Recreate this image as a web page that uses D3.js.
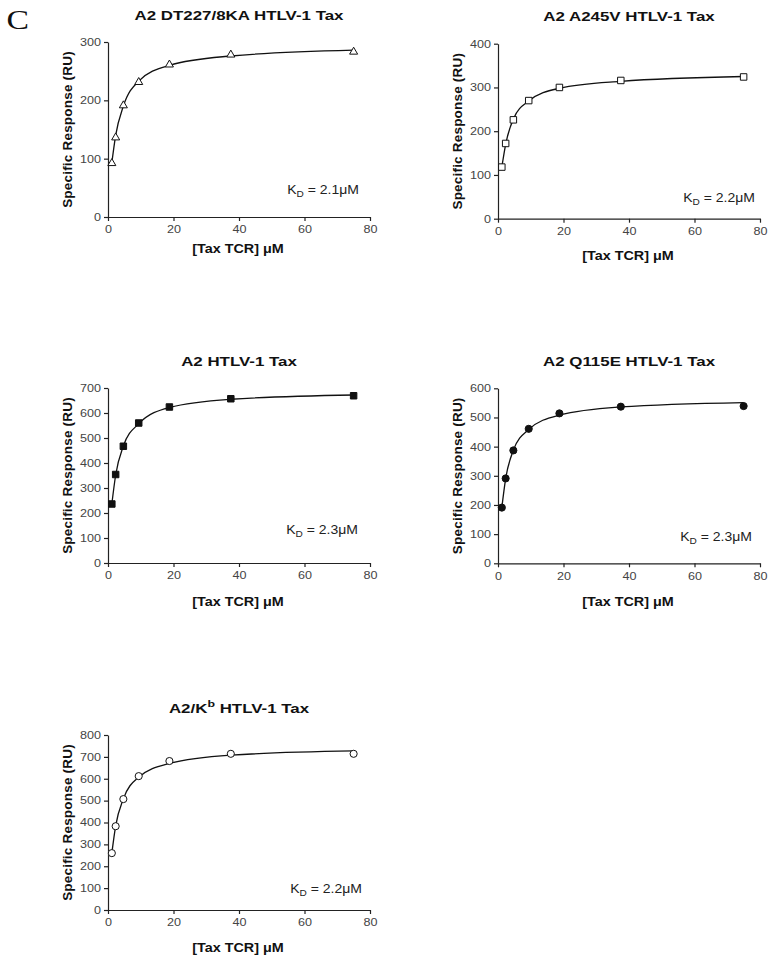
<!DOCTYPE html>
<html>
<head>
<meta charset="utf-8">
<script src="https://cdn.jsdelivr.net/npm/d3@7"></script>
<style>
  html, body { margin: 0; padding: 0; background: #fff; }
  svg { display: block; }
  .tick text { font-family: "Liberation Sans", Arial, sans-serif; font-size: 10.5px; fill: #444; }
  .tick line, .domain { stroke: #222; stroke-width: 1.2px; }
</style>
</head>
<body>
<svg id="chart" width="775" height="963"></svg>
<script>
// ---------- data ----------
const concentrations = [1.17, 2.34, 4.69, 9.38, 18.75, 37.5, 75];   // [Tax TCR] µM
// measured points
const dt227Values = [93, 137, 192, 232, 262, 279, 284];
const a245vValues = [118, 172, 226, 270, 300, 316, 324];
const htlvValues  = [236, 354, 467, 560, 624, 657, 669];
const q115eValues = [191, 291, 387, 461, 514, 537, 539];
const kbValues    = [260, 383, 507, 612, 681, 714, 714];
// fitted curve at the same concentrations
const dt227Fit = [93, 140, 190, 233, 260, 276, 286];
const a245vFit = [118, 170, 228, 269, 298, 314, 325];
const htlvFit  = [236, 352, 468, 557, 622, 655, 672];
const q115eFit = [191, 290, 388, 459, 508, 536, 551];
const kbFit    = [260, 385, 508, 607, 670, 708, 727];
const panelTitles = ["A2 DT227/8KA HTLV-1 Tax", "A2 A245V HTLV-1 Tax", "A2 HTLV-1 Tax", "A2 Q115E HTLV-1 Tax", "A2/K|b| HTLV-1 Tax"];
const kdValues = ["2.1", "2.2", "2.3", "2.3", "2.2"];
const yMaxValues = [300, 400, 700, 600, 800];
const xTickValues = [0, 20, 40, 60, 80];
const markerTypes = ["triangleOpen", "squareOpen", "squareFilled", "circleFilled", "circleOpen"];
const seriesValues = [dt227Values, a245vValues, htlvValues, q115eValues, kbValues];
const fitValues = [dt227Fit, a245vFit, htlvFit, q115eFit, kbFit];

// ---------- layout ----------
const W = 262, H = 175;
const layout = [
  {left: 108, bottom: 217,   xlab: 36, kdX: 251, kdY: 23},
  {left: 498, bottom: 218.7, xlab: 41, kdX: 257, kdY: 16.5},
  {left: 108, bottom: 563,   xlab: 43, kdX: 250, kdY: 29.5},
  {left: 498, bottom: 563.3, xlab: 43, kdX: 254, kdY: 22.5},
  {left: 108, bottom: 910,   xlab: 42, kdX: 254, kdY: 17.5}
];
const SANS = '"Liberation Sans", Arial, sans-serif';
const TICK_SX = 1.2;

const svg = d3.select("#chart");

// panel letter
svg.append("text")
  .attr("transform", "translate(6.5,28.5) scale(1.25,1)")
  .attr("font-family", '"Liberation Serif", "Times New Roman", serif')
  .attr("font-size", 27)
  .attr("fill", "#111")
  .text("C");

seriesValues.forEach((vals, i) => {
  const L = layout[i];
  const g = svg.append("g").attr("transform", `translate(${L.left},${L.bottom - H})`);
  const x = d3.scaleLinear().domain([0, 80]).range([0, W]);
  const y = d3.scaleLinear().domain([0, yMaxValues[i]]).range([H, 0]);

  // axes
  g.append("g").attr("transform", `translate(0,${H})`)
    .call(d3.axisBottom(x).tickValues(xTickValues).tickSize(4).tickSizeOuter(0).tickPadding(5))
    .call(a => a.selectAll(".tick text").attr("transform", `scale(${TICK_SX},1)`));
  g.append("g")
    .call(d3.axisLeft(y).tickValues(d3.range(0, yMaxValues[i] + 1, 100)).tickSize(4).tickSizeOuter(0).tickPadding(3))
    .call(a => a.selectAll(".tick text").attr("x", -7 / TICK_SX).attr("transform", `scale(${TICK_SX},1)`));

  // title (with optional superscript marked |...|)
  const title = g.append("text")
    .attr("transform", `translate(${W / 2},-22.5) scale(1.3,1)`)
    .attr("text-anchor", "middle")
    .attr("font-family", SANS).attr("font-weight", "bold")
    .attr("font-size", 13)
    .attr("fill", "#111");
  panelTitles[i].split("|").forEach((part, k) => {
    const ts = title.append("tspan").text(part);
    if (k === 1) ts.attr("baseline-shift", "super").attr("font-size", 9.5);
  });

  // axis labels
  g.append("text")
    .attr("transform", `translate(-41,${H / 2}) rotate(-90)`)
    .attr("text-anchor", "middle").attr("dy", "0.35em")
    .attr("font-family", SANS).attr("font-weight", "bold")
    .attr("font-size", 13.5).attr("letter-spacing", 0.2)
    .attr("fill", "#111")
    .text("Specific Response (RU)");
  g.append("text")
    .attr("transform", `translate(${W / 2 - 1},${H + L.xlab}) scale(1.15,1)`)
    .attr("text-anchor", "middle")
    .attr("font-family", SANS).attr("font-weight", "bold")
    .attr("font-size", 12.5)
    .attr("fill", "#111")
    .text("[Tax TCR] μM");

  // KD annotation
  const kd = g.append("text")
    .attr("transform", `translate(${L.kdX},${H - L.kdY}) scale(1.12,1)`)
    .attr("text-anchor", "end")
    .attr("font-family", SANS).attr("font-size", 12.5)
    .attr("fill", "#222");
  kd.append("tspan").text("K");
  kd.append("tspan").attr("font-size", 9).attr("dy", 3).text("D");
  kd.append("tspan").attr("dy", -3).text(" = " + kdValues[i] + "μM");

  // fitted binding curve
  const fitPts = concentrations.map((c, j) => [c, fitValues[i][j]]);
  g.append("path")
    .datum(fitPts)
    .attr("fill", "none").attr("stroke", "#111").attr("stroke-width", 1.3)
    .attr("d", d3.line().x(d => x(d[0])).y(d => y(d[1])).curve(d3.curveMonotoneX));

  // markers
  const pts = concentrations.map((c, j) => [c, vals[j]]);
  const mt = markerTypes[i];
  const open = mt.endsWith("Open");
  let symType = d3.symbolCircle, size = 40;
  if (mt.startsWith("triangle")) { symType = d3.symbolTriangle; size = 28; }
  if (mt.startsWith("square")) { symType = d3.symbolSquare; size = 42; }
  g.selectAll(".pt").data(pts).join("path")
    .attr("class", "pt")
    .attr("transform", d => `translate(${x(d[0])},${y(d[1]) + (mt.startsWith("triangle") ? 0.5 : 0)})`)
    .attr("d", d3.symbol().type(symType).size(size))
    .attr("fill", open ? "#fff" : "#111")
    .attr("stroke", "#111").attr("stroke-width", 1);
});
</script>
</body>
</html>
